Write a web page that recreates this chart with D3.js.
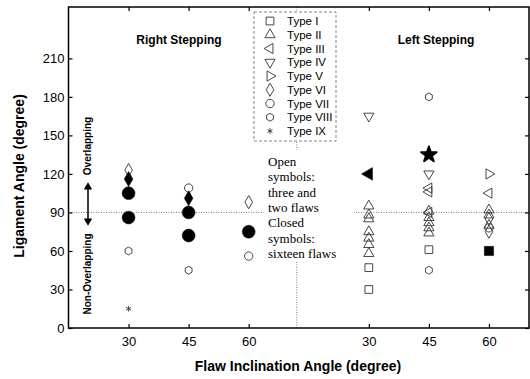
<!DOCTYPE html>
<html><head><meta charset="utf-8">
<script src="https://cdn.jsdelivr.net/npm/d3@7"></script>
<style>body{margin:0;background:#fff}svg{display:block}text{font-family:"Liberation Sans",Arial,sans-serif}</style>
</head><body><svg id="c" width="530" height="379"></svg>
<script>
// ---- data ----
const xKeys = ["R30","R45","R60","L30","L45","L60"];
const xPos = [30,45,60,90,105,120];
const xTickLabels = ["30","45","60","30","45","60"];
const yTicks = [0,30,60,90,120,150,180,210];
const typeNames = ["Type I","Type II","Type III","Type IV","Type V","Type VI","Type VII","Type VIII","Type IX"];
// open symbols: three and two flaws  [x key, ligament angle]
const openI    = [["L30",47],["L30",30],["L45",61]];
const openII   = [["L30",95],["L30",88],["L30",85],["L30",75],["L30",70],["L30",65],["L30",58],
                  ["L45",91],["L45",86],["L45",82],["L45",78],["L45",74],["L60",92],["L60",88],["L60",80]];
const openIII  = [["L45",109],["L45",106],["L45",90],["L60",105]];
const openIV   = [["L30",165],["L45",120]];
const openV    = [["L60",120]];
const openVI   = [["R30",123],["R60",98],["L60",85],["L60",75]];
const openVII  = [["R45",109],["R60",56],["L60",78]];
const openVIII = [["R30",60],["R45",45],["L45",180],["L45",45]];
const openIX   = [["R30",15]];
// closed symbols: sixteen flaws
const closedI   = [["L60",60]];
const closedIII = [["L30",120]];
const closedVI  = [["R30",116],["R45",101]];
const closedVII = [["R30",105],["R30",86],["R45",90],["R45",72],["R60",75]];
const closedIX  = [["L45",135]];

const svg = d3.select("#c");
const x = d3.scaleLinear().domain([15,130]).range([68.5,529]);
const y = d3.scaleLinear().domain([0,250]).range([328,7]);
const xOf = k => x(xPos[xKeys.indexOf(k)]);

// custom hexagon symbol
const hexagon = {draw(ctx,size){const r=Math.sqrt(size/2.598);for(let i=0;i<6;i++){const a=Math.PI/3*i+Math.PI/6;const px=r*Math.cos(a),py=r*Math.sin(a);i?ctx.lineTo(px,py):ctx.moveTo(px,py);}ctx.closePath();}};
const sym = [
 {t:d3.symbolSquare,r:0,s:60},
 {t:d3.symbolTriangle,r:0,s:45},
 {t:d3.symbolTriangle,r:-90,s:45},
 {t:d3.symbolTriangle,r:180,s:45},
 {t:d3.symbolTriangle,r:90,s:45},
 {t:d3.symbolDiamond,r:0,s:50},
 {t:d3.symbolCircle,r:0,s:55},
 {t:hexagon,r:0,s:40},
 {t:d3.symbolAsterisk||d3.symbolCross,r:0,s:22}
];

// dotted reference lines
svg.append("line").attr("x1",x(15)).attr("x2",x(130)).attr("y1",y(90)).attr("y2",y(90))
  .attr("stroke","#555").attr("stroke-width",0.8).attr("stroke-dasharray","1,1.5");
svg.append("line").attr("x1",x(72)).attr("x2",x(72)).attr("y1",y(250)).attr("y2",y(0))
  .attr("stroke","#555").attr("stroke-width",0.8).attr("stroke-dasharray","1,1.5");

// axes
const gL = svg.append("g").attr("transform",`translate(${x(15)},0)`)
  .call(d3.axisLeft(y).tickValues(yTicks).tickSizeInner(-4).tickSizeOuter(0).tickPadding(4));
const gR = svg.append("g").attr("transform",`translate(${x(130)},0)`)
  .call(d3.axisRight(y).tickValues(yTicks).tickSizeInner(-4).tickSizeOuter(0).tickFormat(""));
const gB = svg.append("g").attr("transform",`translate(0,${y(0)})`)
  .call(d3.axisBottom(x).tickValues(xPos).tickSizeInner(-4).tickSizeOuter(0).tickPadding(9)
  .tickFormat((d,i)=>xTickLabels[i]));
const gT = svg.append("g").attr("transform",`translate(0,${y(250)})`)
  .call(d3.axisTop(x).tickValues(xPos).tickSizeInner(-4).tickSizeOuter(0).tickFormat(""));
[gL,gR,gB,gT].forEach(g=>{g.selectAll(".domain").remove();g.selectAll("line").attr("stroke","#000").attr("stroke-width",1.2);
  g.selectAll("text").attr("font-size",13).attr("fill","#000").style("font-family","Liberation Sans, Arial, sans-serif");});
svg.append("rect").attr("x",x(15)).attr("y",y(250)).attr("width",x(130)-x(15)).attr("height",y(0)-y(250))
  .attr("fill","none").attr("stroke","#000").attr("stroke-width",1.5);

// legend box
const lg = svg.append("g");
lg.append("rect").attr("x",254).attr("y",12).attr("width",82).attr("height",129)
  .attr("fill","#fff").attr("stroke","#666").attr("stroke-width",0.8).attr("stroke-dasharray","3,2");
typeNames.forEach((n,i)=>{
  const yy = 21 + i*13.75;
  const s = sym[i];
  lg.append("path").attr("d",d3.symbol(s.t, s.s)())
    .attr("transform",`translate(270,${yy}) rotate(${s.r})`)
    .attr("fill","none").attr("stroke","#333").attr("stroke-width",0.9);
  lg.append("text").attr("x",287).attr("y",yy+4).attr("font-size",11.5).text(n);
});

// annotation
const notes = ["Open","symbols:","three and","two flaws","Closed","symbols:","sixteen flaws"];
svg.append("rect").attr("x",264).attr("y",150).attr("width",90).attr("height",112).attr("fill","#fff");
notes.forEach((t,i)=>svg.append("text").attr("x",268).attr("y",166+i*15.3).attr("font-size",13)
  .style("font-family","Liberation Serif, Times New Roman, serif").text(t));

// section titles
svg.append("text").attr("x",179).attr("y",44).attr("text-anchor","middle").attr("font-size",12)
  .attr("font-weight","bold").text("Right Stepping");
svg.append("text").attr("x",436).attr("y",44).attr("text-anchor","middle").attr("font-size",12)
  .attr("font-weight","bold").text("Left Stepping");

// overlapping annotation
svg.append("text").attr("transform","translate(91,146) rotate(-90)").attr("text-anchor","middle")
  .attr("font-size",10).attr("font-weight","bold").text("Overlapping");
svg.append("text").attr("transform","translate(91,274) rotate(-90)").attr("text-anchor","middle")
  .attr("font-size",10).attr("font-weight","bold").text("Non-Overlapping");
svg.append("line").attr("x1",88).attr("x2",88).attr("y1",189).attr("y2",219).attr("stroke","#000").attr("stroke-width",1.5);
svg.append("path").attr("d",d3.symbol(d3.symbolTriangle,30)()).attr("transform","translate(88,187)").attr("fill","#000");
svg.append("path").attr("d",d3.symbol(d3.symbolTriangle,30)()).attr("transform","translate(88,221) rotate(180)").attr("fill","#000");

// axis titles
svg.append("text").attr("transform","translate(24,176) rotate(-90)").attr("text-anchor","middle")
  .attr("font-size",14).attr("font-weight","bold").text("Ligament Angle (degree)");
svg.append("text").attr("x",298).attr("y",371).attr("text-anchor","middle")
  .attr("font-size",14).attr("font-weight","bold").text("Flaw Inclination Angle (degree)");

// points
function plot(arr, ti, filled, size, type){
  const s = sym[ti];
  svg.append("g").selectAll("path").data(arr).join("path")
    .attr("d",d3.symbol(type||s.t, size||s.s)())
    .attr("transform",d=>`translate(${xOf(d[0])},${y(d[1])}) rotate(${s.r})`)
    .attr("fill",filled?"#000":"none").attr("stroke",filled?"#000":"#333").attr("stroke-width",filled?0.5:0.9)
    .attr("stroke-linejoin","round");
}
plot(openI,0,false); plot(openII,1,false); plot(openIII,2,false); plot(openIV,3,false);
plot(openV,4,false); plot(openVI,5,false); plot(openVII,6,false); plot(openVIII,7,false); plot(openIX,8,false);
plot(closedI,0,true,85); plot(closedIII,2,true,70); plot(closedVI,5,true,65);
plot(closedVII,6,true,130);
svg.append("g").selectAll("path").data(closedIX).join("path")
  .attr("d",d3.symbol(d3.symbolStar,75)())
  .attr("transform",d=>`translate(${xOf(d[0])},${y(d[1])})`)
  .attr("fill","#000").attr("stroke","#000").attr("stroke-width",2).attr("stroke-linejoin","round");
</script></body></html>
